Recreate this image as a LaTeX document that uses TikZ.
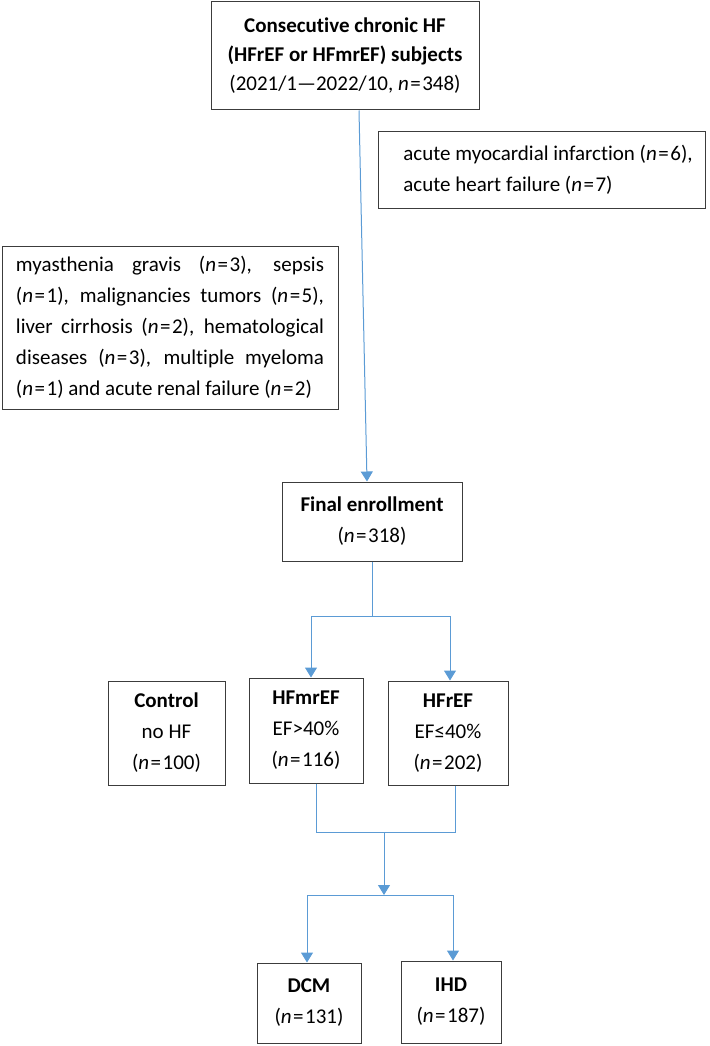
\documentclass[tikz,border=0pt]{standalone}
\usepackage{fontspec}
\setmainfont{Carlito}[Ligatures={TeX,NoCommon}]
\usepackage{xcolor}
\usetikzlibrary{arrows.meta,positioning}

\definecolor{flowblue}{RGB}{91,155,213}
\definecolor{boxgray}{RGB}{60,60,60}
\newcommand{\ncount}[1]{(\textit{n}\kern1.5pt=\kern1.5pt#1)}

\tikzset{
  box/.style={draw=boxgray, line width=1pt, align=center, inner sep=0pt, font=\fontsize{21}{31}\selectfont},
  flow/.style={draw=flowblue, line width=1pt},
  flowarrow/.style={flow, -{Triangle[width=12pt,length=10pt]}},
}

\begin{document}
\begin{tikzpicture}[x=1pt,y=1pt,yscale=-1,xscale=1]
  \useasboundingbox (0,0) rectangle (709,1046);

  % Subjects
  \node [box, font=\fontsize{21}{29}\selectfont, minimum width=268pt, minimum height=108pt] (subjects) at (345,56)
    {\textbf{Consecutive chronic HF}\\\textbf{(HFrEF or HFmrEF) subjects}\\(2021/1---2022/10, \textit{n}\kern1.5pt=\kern1.5pt348)};
  % Exclusion (right)
  \node [box, align=left, inner xsep=10pt, minimum width=327pt, minimum height=76pt] (exclacute) at (541.5,170)
    {\hspace*{13pt}acute myocardial infarction \ncount{6},\\\hspace*{13pt}acute heart failure \ncount{7}};
  % Exclusion (left)
  \node [box, align=left, inner xsep=14pt, minimum width=336pt, minimum height=163pt] (exclother) at (170,327.5)
    {\makebox[308pt][s]{myasthenia gravis \ncount{3}, sepsis}\\
     \makebox[308pt][s]{\ncount{1}, malignancies tumors \ncount{5},}\\
     \makebox[308pt][s]{liver cirrhosis \ncount{2}, hematological}\\
     \makebox[308pt][s]{diseases \ncount{3}, multiple myeloma}\\
     \ncount{1} and acute renal failure \ncount{2}};

  % Final enrollment
  \node [box, minimum width=180pt, minimum height=79pt] (final) at (372,521.5)
    {\textbf{Final enrollment}\\\ncount{318}};

  % Groups
  \node [box, minimum width=117pt, minimum height=104pt] (control) at (166.5,733)
    {\textbf{Control}\\no HF\\\ncount{100}};
  \node [box, minimum width=114pt, minimum height=105pt] (hfmr) at (306,730.5)
    {\textbf{HFmrEF}\\EF>40\%\\\ncount{116}};
  \node [box, minimum width=120pt, minimum height=104pt] (hfr) at (448,733)
    {\textbf{HFrEF}\\EF≤40\%\\\ncount{202}};

  % Aetiology
  \node [box, minimum width=104pt, minimum height=80pt] (dcm) at (309,1003)
    {\textbf{DCM}\\\ncount{131}};
  \node [box, minimum width=100pt, minimum height=82pt] (ihd) at (451,1002)
    {\textbf{IHD}\\\ncount{187}};

  % Connectors
  \coordinate (split1) at (372,616);
  \coordinate (merge) at (384,832);
  \coordinate (split2) at (384,895);

  \draw [flowarrow] ([xshift=14pt]subjects.south) -- ([xshift=-5pt]final.north);
  \draw [flow] (final.south) -- (split1);
  \draw [flowarrow] (split1) -| ([xshift=5pt]hfmr.north);
  \draw [flowarrow] (split1) -| ([xshift=2pt]hfr.north);
  \draw [flow] ([xshift=10pt]hfmr.south) |- (merge);
  \draw [flow] ([xshift=7pt]hfr.south) |- (merge);
  \draw [flowarrow] (merge) -- (split2);
  \draw [flowarrow] (split2) -| ([xshift=-2pt]dcm.north);
  \draw [flowarrow] (split2) -| ([xshift=2pt]ihd.north);
\end{tikzpicture}
\end{document}
